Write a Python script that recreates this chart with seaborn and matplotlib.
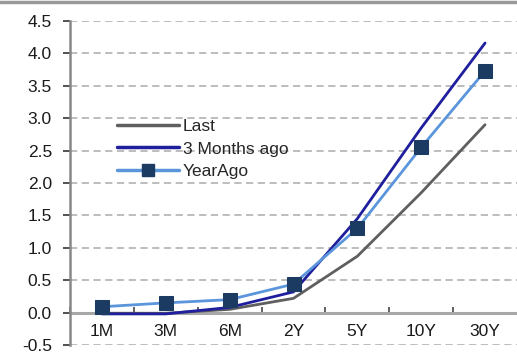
import matplotlib
matplotlib.use("Agg")
import matplotlib.pyplot as plt
import seaborn as sns
import pandas as pd
import numpy as np
from matplotlib.lines import Line2D

categories = ["1M", "3M", "6M", "2Y", "5Y", "10Y", "30Y"]
last = [-0.01, -0.01, 0.05, 0.22, 0.87, 1.85, 2.90]
three_months_ago = [-0.02, -0.02, 0.08, 0.32, 1.45, 2.85, 4.16]
year_ago = [0.09, 0.15, 0.20, 0.44, 1.30, 2.55, 3.73]
y_ticks = [-0.5, 0.0, 0.5, 1.0, 1.5, 2.0, 2.5, 3.0, 3.5, 4.0, 4.5]

sns.set_theme(style="white")
plt.rcParams["font.family"] = ["Liberation Sans", "DejaVu Sans"]

W, H = 517, 356
fig = plt.figure(figsize=(W / 100, H / 100), dpi=100)
ax = fig.add_axes([70 / W, 11 / H, 447 / W, 324 / H])

pos = np.arange(len(categories))
df = pd.DataFrame({
    "pos": np.tile(pos, 3),
    "val": last + three_months_ago + year_ago,
    "series": ["Last"] * 7 + ["3 Months ago"] * 7 + ["YearAgo"] * 7,
})

ax.set_ylim(-0.5, 4.5)
ax.set_xlim(-0.5, 6.5)
for y in y_ticks:
    ax.axhline(y, color="#b8b8b8", lw=1.3, ls=(0, (4, 2.5)), zorder=0)
ax.axhline(0, color="#a8a8a8", lw=2.2, zorder=1)

sns.lineplot(data=df[df.series == "Last"], x="pos", y="val", color="#5f5f5f",
             lw=2.0, ax=ax, sort=False, zorder=3)
sns.lineplot(data=df[df.series == "3 Months ago"], x="pos", y="val", color="#1f1f9e",
             lw=2.0, ax=ax, sort=False, zorder=4)
sns.lineplot(data=df[df.series == "YearAgo"], x="pos", y="val", color="#5b95dc",
             lw=2.0, ax=ax, sort=False, zorder=5, marker="s", markersize=9.5,
             markerfacecolor="#1b3b63", markeredgecolor="#1b3b63")

ax.set_xlabel("")
ax.set_ylabel("")
ax.set_yticks(y_ticks)
ax.set_yticklabels([f"{v:.1f}" for v in y_ticks], fontsize=12.5, color="#1a1a1a")
ax.tick_params(axis="y", which="major", direction="out", length=5, width=1.3,
               color="#444444", pad=8, left=True)

for s in ["top", "right"]:
    ax.spines[s].set_visible(False)
ax.spines["left"].set_color("#888888")
ax.spines["left"].set_linewidth(1.8)
ax.spines["bottom"].set_position(("data", 0))
ax.spines["bottom"].set_visible(False)

ax.set_xticks(np.arange(-0.5, 6.5, 1.0))
ax.set_xticklabels([])
ax.tick_params(axis="x", which="major", direction="in", length=4, width=1.3,
               color="#555555", bottom=True)
ax.set_xticks(pos, minor=True)
ax.set_xticklabels(categories, minor=True, fontsize=12.5, color="#1a1a1a")
ax.tick_params(axis="x", which="minor", length=0, pad=8.5)
ax.xaxis.set_tick_params(which="major", labelbottom=False)

handles = [
    Line2D([], [], color="#5f5f5f", lw=2.5),
    Line2D([], [], color="#1f1f9e", lw=2.5),
    Line2D([], [], color="#5b95dc", lw=2.5, marker="s", markersize=8,
           markerfacecolor="#1b3b63", markeredgecolor="#1b3b63"),
]
ax.legend(handles, ["Last", "3 Months ago", "YearAgo"], loc="upper left",
          bbox_to_anchor=(40 / 447, (345 - 112) / 324), frameon=False,
          fontsize=12.5, handlelength=3.6, handletextpad=0.2, labelspacing=0.42,
          borderaxespad=0)

fig.add_artist(Line2D([0, 1], [1 - 1.5 / H, 1 - 1.5 / H], transform=fig.transFigure,
                      color="#999999", lw=2.5))

fig.savefig("out.png", dpi=100)
